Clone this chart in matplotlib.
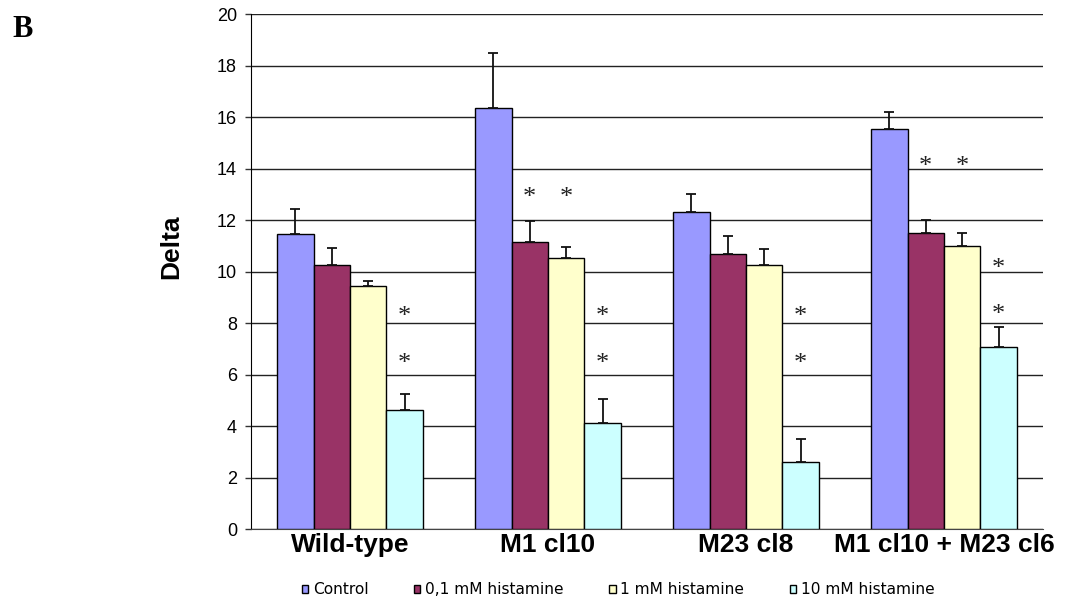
import matplotlib
matplotlib.use("Agg")
import matplotlib.pyplot as plt
from matplotlib.patches import Patch
import numpy as np

# ---- data ----
categories = ["Wild-type", "M1 cl10", "M23 cl8", "M1 cl10 + M23 cl6"]
series_names = ["Control", "0,1 mM histamine", "1 mM histamine", "10 mM histamine"]
control = [11.45, 16.35, 12.33, 15.56]
hist_01 = [10.26, 11.14, 10.70, 11.49]
hist_1 = [9.46, 10.52, 10.27, 11.00]
hist_10 = [4.62, 4.10, 2.62, 7.09]
err_control = [0.99, 2.14, 0.70, 0.65]
err_01 = [0.65, 0.83, 0.70, 0.51]
err_1 = [0.19, 0.43, 0.62, 0.49]
err_10 = [0.63, 0.94, 0.89, 0.77]
# significance asterisks: (category index, series index, y value)
star_cat = [0, 0, 1, 1, 1, 1, 2, 2, 3, 3, 3, 3]
star_ser = [3, 3, 1, 2, 3, 3, 3, 3, 1, 2, 3, 3]
star_y = [8.39, 6.57, 13.0, 13.0, 8.39, 6.57, 8.39, 6.57, 14.2, 14.2, 10.26, 8.47]
yticks = [0, 2, 4, 6, 8, 10, 12, 14, 16, 18, 20]

colors = ["#9999FF", "#993366", "#FFFFCC", "#CCFFFF"]
values = [control, hist_01, hist_1, hist_10]
errors = [err_control, err_01, err_1, err_10]

fig = plt.figure(figsize=(10.72, 6.02), dpi=100)
ax = fig.add_axes([251 / 1072, 1 - 529 / 602, (1043 - 251) / 1072, (529 - 14.3) / 602])

x = np.arange(len(categories))
bw = 0.184
for i, (vals, errs, c) in enumerate(zip(values, errors, colors)):
    pos = x + (i - 1.5) * bw
    ax.bar(pos, vals, width=bw, color=c, edgecolor="black", linewidth=1.0, zorder=3)
    ax.errorbar(pos, vals, yerr=[np.zeros(len(vals)), errs], fmt="none",
                ecolor="#111111", elinewidth=1.3, capsize=3.8, capthick=1.3, zorder=4)

for ci, si, yv in zip(star_cat, star_ser, star_y):
    ax.annotate("*", xy=(x[ci] + (si - 1.5) * bw, yv), xytext=(0, -7),
                textcoords="offset points", ha="center", va="baseline",
                fontsize=19, family="Liberation Serif", color="#222222", zorder=5)

ax.set_xlim(-0.5, 3.5)
ax.set_ylim(0, 20)
ax.set_yticks(yticks)
ax.set_xticks(x)
ax.set_xticklabels(categories, fontsize=19, fontweight="bold", family="Liberation Sans")
for lab in ax.get_yticklabels():
    lab.set_family("Liberation Sans")
ax.tick_params(axis="y", labelsize=13, length=4, width=1, pad=6, color="#333333")
ax.tick_params(axis="x", length=0, pad=3)
ax.yaxis.grid(True, color="#222222", linewidth=1.0, zorder=0)
ax.set_axisbelow(True)
for s in ["top", "right"]:
    ax.spines[s].set_visible(False)
ax.spines["left"].set_color("black")
ax.spines["bottom"].set_color("#444444")

fig.text(171 / 1072, 1 - 247 / 602, "Delta", rotation=90, ha="center", va="center",
         fontsize=19, fontweight="bold", family="Liberation Sans")
fig.text(12 / 1072, 1 - 37 / 602, "B", ha="left", va="baseline",
         fontsize=22, fontweight="bold", family="Liberation Serif")

handles = [Patch(facecolor=c, edgecolor="black", linewidth=1.0) for c in colors]
fig.legend(handles, series_names, loc="center", bbox_to_anchor=(618 / 1072, 1 - 590 / 602),
           ncol=4, frameon=False, fontsize=11.1, handlelength=0.42, handleheight=0.42,
           handletextpad=0.3, columnspacing=2.95, borderpad=0.1)

fig.savefig("out.png", dpi=100)
